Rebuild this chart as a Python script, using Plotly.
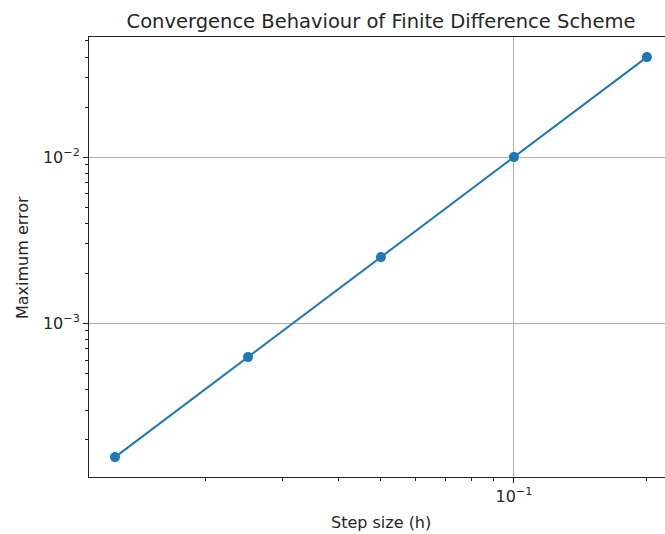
import numpy as np
import plotly.graph_objects as go

# Data
step_sizes = [0.2, 0.1, 0.05, 0.025, 0.0125]
max_errors = [0.04, 0.01, 0.0025, 0.000625, 0.00015625]

x_tick_vals = [0.1]
x_tick_text = ["10<sup>−1</sup>"]
y_tick_vals = [0.001, 0.01]
y_tick_text = ["10<sup>−3</sup>", "10<sup>−2</sup>"]

x_minor = [0.02, 0.03, 0.04, 0.05, 0.06, 0.07, 0.08, 0.09, 0.2, 0.3]
y_minor = [k * 1e-4 for k in range(1, 10)] + [k * 1e-3 for k in range(2, 10)] + [k * 1e-2 for k in range(2, 10)]

W, H = 665, 534
L, R, T, B = 89, 0, 37, 57

fig = go.Figure()
fig.add_trace(go.Scatter(
    x=step_sizes, y=max_errors, mode="lines+markers",
    line=dict(color="#1f77b4", width=2),
    marker=dict(color="#1f77b4", size=10),
    showlegend=False,
))

font = dict(family="DejaVu Sans", size=16, color="#262626")

fig.update_layout(
    width=W, height=H,
    margin=dict(l=L, r=R, t=T, b=B, pad=0),
    paper_bgcolor="white", plot_bgcolor="white",
    font=font,
    title=dict(text="Convergence Behaviour of Finite Difference Scheme",
               x=381 / W, xref="container", xanchor="center",
               y=1 - 21 / H, yref="container", yanchor="middle",
               font=dict(family="DejaVu Sans", size=19.5, color="#262626")),
)

fig.update_xaxes(
    type="log", range=[-1.962, -0.658],
    tickmode="array", tickvals=x_tick_vals, ticktext=x_tick_text,
    ticks="outside", ticklen=5, tickwidth=1, tickcolor="#222",
    showgrid=True, gridcolor="#b0b0b0", gridwidth=1,
    showline=True, linecolor="#222", linewidth=1, mirror=True,
    zeroline=False,
    minor=dict(tickmode="array", tickvals=x_minor, ticks="outside",
               ticklen=3, tickwidth=1, tickcolor="#222", showgrid=False),
    tickfont=font,
)
fig.update_yaxes(
    type="log", range=[-3.926, -1.277],
    tickmode="array", tickvals=y_tick_vals, ticktext=y_tick_text,
    ticks="outside", ticklen=5, tickwidth=1, tickcolor="#222",
    showgrid=True, gridcolor="#b0b0b0", gridwidth=1,
    showline=True, linecolor="#222", linewidth=1, mirror=False,
    zeroline=False,
    minor=dict(tickmode="array", tickvals=y_minor, ticks="outside",
               ticklen=3, tickwidth=1, tickcolor="#222", showgrid=False),
    tickfont=font,
)

fig.add_annotation(text="Step size (h)", xref="paper", yref="paper",
                   x=(381 - L) / (W - L - R), y=-(522 - (H - B)) / (H - T - B),
                   xanchor="center", yanchor="middle", showarrow=False,
                   font=dict(family="DejaVu Sans", size=16, color="#262626"))
fig.add_annotation(text="Maximum error", xref="paper", yref="paper",
                   x=-(L - 22) / (W - L - R), y=(H - B - 258) / (H - T - B),
                   xanchor="center", yanchor="middle", showarrow=False, textangle=-90,
                   font=dict(family="DejaVu Sans", size=16, color="#262626"))

fig.write_html("out.html")
